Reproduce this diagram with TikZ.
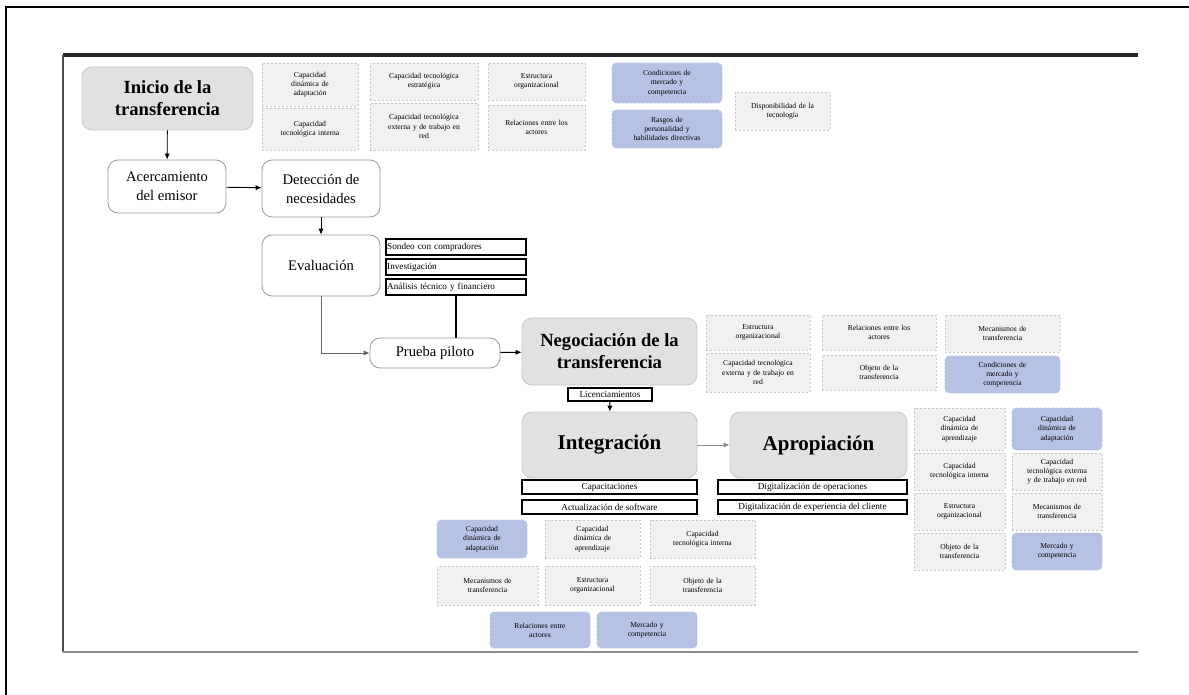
\documentclass[tikz,border=0pt]{standalone}
\usepackage{fontspec}
\setmainfont{Liberation Serif}
\usetikzlibrary{calc,arrows.meta}
\definecolor{cellblue}{RGB}{182,194,228}
\definecolor{cellgray}{RGB}{241,241,241}
\definecolor{boxgray}{RGB}{225,225,225}
\tikzset{
	bigbox/.style={draw=black!22, fill=boxgray, rounded corners=5pt, align=center, inner sep=1pt, font=\bfseries\fontsize{9.3}{11}\selectfont},
	whitebox/.style={draw=black!40, fill=white, rounded corners=5pt, align=center, inner sep=1pt, font=\fontsize{7.3}{9.5}\selectfont},
	listbox/.style={draw=black, line width=0.6pt, fill=white, inner sep=0.6pt, font=\fontsize{4.6}{5}\selectfont},
	cell/.style={draw=black!22, dash pattern=on 1pt off 1pt, fill=cellgray, align=center, inner sep=0pt, font=\fontsize{3.8}{4.6}\selectfont},
	bluecell/.style={cell, draw=cellblue, fill=cellblue, rounded corners=2pt},
	arr/.style={-{Latex[length=3pt, width=2.6pt]}, line width=0.45pt},
}
\begin{document}
\begin{tikzpicture}[x=0.5pt, y=-0.5pt]
			%%%%% START %%%%%
			\useasboundingbox (0, 0) rectangle (1189, 695);
			
			\draw[line width=0.9pt] (6, 695) -- (6, 7) -- (1189, 7);
			\draw[line width=1.6pt, black!85] (63, 55) -- (1138, 55);
			\draw[line width=1.2pt, black!70] (63, 55) -- (63, 652);
			\draw[line width=1.2pt, black!45] (63, 652) -- (1138, 652);
			
			% main chain
			\node[bigbox, minimum width=85.5pt, minimum height=31.5pt] (inicio) at (167.5, 98.5) {Inicio de la\\transferencia};
			\node[whitebox, minimum width=59pt, minimum height=26.5pt] (acerca) at (167, 186.5) {Acercamiento\\del emisor};
			\node[whitebox, minimum width=59pt, minimum height=28.5pt] (deteccion) at (321, 188.5) {Detección de\\necesidades};
			\node[whitebox, minimum width=59pt, minimum height=30.5pt] (evaluacion) at (321, 265.5) {Evaluación};
			\node[whitebox, minimum width=65pt, minimum height=15pt] (piloto) at (435, 353) {Prueba piloto};
			\node[bigbox, minimum width=87.5pt, minimum height=33.5pt] (negociacion) at (609.5, 351.5) {Negociación de la\\transferencia};
			\node[bigbox, minimum width=87.5pt, minimum height=33pt, font=\bfseries\fontsize{10.5}{12}\selectfont] (integracion) at (609.5, 445) {Integración};
			\node[bigbox, minimum width=88.5pt, minimum height=33pt, font=\bfseries\fontsize{10.5}{12}\selectfont] (apropiacion) at (818.5, 445) {Apropiación};
			
			% lists
			\node[listbox, text width=68.8pt, minimum height=8pt] (sondeo) at (456, 247) {Sondeo con compradores};
			\node[listbox, text width=68.8pt, minimum height=8pt] (investiga) at (456, 267) {Investigación};
			\node[listbox, text width=68.8pt, minimum height=8pt] (analisis) at (456, 287) {Análisis técnico y financiero};
			\node[listbox, minimum width=42pt, minimum height=6.5pt] (licencia) at (610, 394.5) {Licenciamientos};
			\node[listbox, minimum width=87.5pt, minimum height=7pt] (capacita) at (609.5, 487) {Capacitaciones};
			\node[listbox, minimum width=87.5pt, minimum height=7pt] (software) at (609.5, 507) {Actualización de software};
			\node[listbox, minimum width=94.5pt, minimum height=7pt] (digiop) at (812.5, 487) {Digitalización de operaciones};
			\node[listbox, minimum width=94.5pt, minimum height=7pt] (digicli) at (812.5, 507) {Digitalización de experiencia del cliente};
			
			% factors at the start
			\node[cell, minimum width=48pt, minimum height=21.5pt, text width=40pt] (ia1) at (310, 84.5) {Capacidad\\dinámica de\\adaptación};
			\node[cell, minimum width=48pt, minimum height=21pt, text width=44pt] (ia2) at (310, 129) {Capacidad\\tecnológica interna};
			\node[cell, minimum width=54pt, minimum height=18.5pt, text width=48pt] (ib1) at (424, 81.5) {Capacidad tecnológica\\estratégica};
			\node[cell, minimum width=54pt, minimum height=23.5pt, text width=48pt] (ib2) at (424, 126.5) {Capacidad tecnológica\\externa y de trabajo en\\red};
			\node[cell, minimum width=48.5pt, minimum height=18.5pt, text width=42pt] (ic1) at (536.5, 81.5) {Estructura\\organizacional};
			\node[cell, minimum width=48.5pt, minimum height=22.5pt, text width=44pt] (ic2) at (536.5, 127.5) {Relaciones entre los\\actores};
			\node[bluecell, minimum width=55pt, minimum height=20pt, text width=48pt] (id1) at (667, 83) {Condiciones de\\mercado y\\competencia};
			\node[bluecell, minimum width=55pt, minimum height=19pt, text width=52pt] (id2) at (667, 129) {Rasgos de\\personalidad y\\habilidades directivas};
			\node[cell, minimum width=47.5pt, minimum height=19pt, text width=44pt] (ie) at (782.5, 111) {Disponibilidad de la\\tecnología};
			
			% factors at the negotiation
			\node[cell, minimum width=52pt, minimum height=17.5pt, text width=46pt] (na1) at (758, 332.5) {Estructura\\organizacional};
			\node[cell, minimum width=52pt, minimum height=19.5pt, text width=48pt] (na2) at (758, 372.5) {Capacidad tecnológica\\externa y de trabajo en\\red};
			\node[cell, minimum width=57pt, minimum height=17.5pt, text width=50pt] (nb1) at (879, 332.5) {Relaciones entre los\\actores};
			\node[cell, minimum width=57pt, minimum height=17.5pt, text width=50pt] (nb2) at (879, 372.5) {Objeto de la\\transferencia};
			\node[cell, minimum width=57.5pt, minimum height=18.5pt, text width=50pt] (nc1) at (1002.5, 333.5) {Mecanismos de\\transferencia};
			\node[bluecell, minimum width=57.5pt, minimum height=18.5pt, text width=50pt] (nc2) at (1002.5, 374.5) {Condiciones de\\mercado y\\competencia};
			
			% factors at the appropriation
			\node[cell, minimum width=45.5pt, minimum height=21pt, text width=42pt] (aa1) at (959.5, 429) {Capacidad\\dinámica de\\aprendizaje};
			\node[bluecell, minimum width=45pt, minimum height=21pt, text width=42pt] (ab1) at (1057, 429) {Capacidad\\dinámica de\\adaptación};
			\node[cell, minimum width=45.5pt, minimum height=18.5pt, text width=42pt] (aa2) at (959.5, 471.5) {Capacidad\\tecnológica interna};
			\node[cell, minimum width=45pt, minimum height=18.5pt, text width=44pt] (ab2) at (1057, 471.5) {Capacidad\\tecnológica externa\\y de trabajo en red};
			\node[cell, minimum width=45.5pt, minimum height=18.5pt, text width=42pt] (aa3) at (959.5, 511.5) {Estructura\\organizacional};
			\node[cell, minimum width=45pt, minimum height=18.5pt, text width=42pt] (ab3) at (1057, 511.5) {Mecanismos de\\transferencia};
			\node[cell, minimum width=45.5pt, minimum height=18.5pt, text width=42pt] (aa4) at (959.5, 551.5) {Objeto de la\\transferencia};
			\node[bluecell, minimum width=45pt, minimum height=18.5pt, text width=42pt] (ab4) at (1057, 551.5) {Mercado y\\competencia};
			
			% factors at the integration
			\node[bluecell, minimum width=45pt, minimum height=19pt, text width=40pt] (ga1) at (482, 539) {Capacidad\\dinámica de\\adaptación};
			\node[cell, minimum width=47.5pt, minimum height=19pt, text width=42pt] (gb1) at (592.5, 539) {Capacidad\\dinámica de\\aprendizaje};
			\node[cell, minimum width=52.5pt, minimum height=19pt, text width=48pt] (gc1) at (702.5, 539) {Capacidad\\tecnológica interna};
			\node[cell, minimum width=50.5pt, minimum height=19.5pt, text width=44pt] (ga2) at (487.5, 585.5) {Mecanismos de\\transferencia};
			\node[cell, minimum width=47.5pt, minimum height=19.5pt, text width=42pt] (gb2) at (592.5, 585.5) {Estructura\\organizacional};
			\node[cell, minimum width=52.5pt, minimum height=19.5pt, text width=48pt] (gc2) at (702.5, 585.5) {Objeto de la\\transferencia};
			\node[bluecell, minimum width=50pt, minimum height=18pt, text width=46pt] (ga3) at (540, 630) {Relaciones entre\\actores};
			\node[bluecell, minimum width=50pt, minimum height=18pt, text width=46pt] (gb3) at (647, 630) {Mercado y\\competencia};
			
			% connectors
			\draw[arr] (inicio) -- (acerca);
			\draw[arr] (acerca) -- (deteccion);
			\draw[arr] (deteccion) -- (evaluacion);
			\draw[arr, black!60] (evaluacion.south) |- (piloto.west);
			\draw[line width=0.8pt] (analisis.south) -- (analisis.south |- piloto.north);
			\draw[arr] (piloto) -- (negociacion);
			\draw[arr] (licencia) -- (integracion);
			\draw[arr, black!45] (integracion) -- (apropiacion);
			
			%%%%% END %%%%%
\end{tikzpicture}
\end{document}
